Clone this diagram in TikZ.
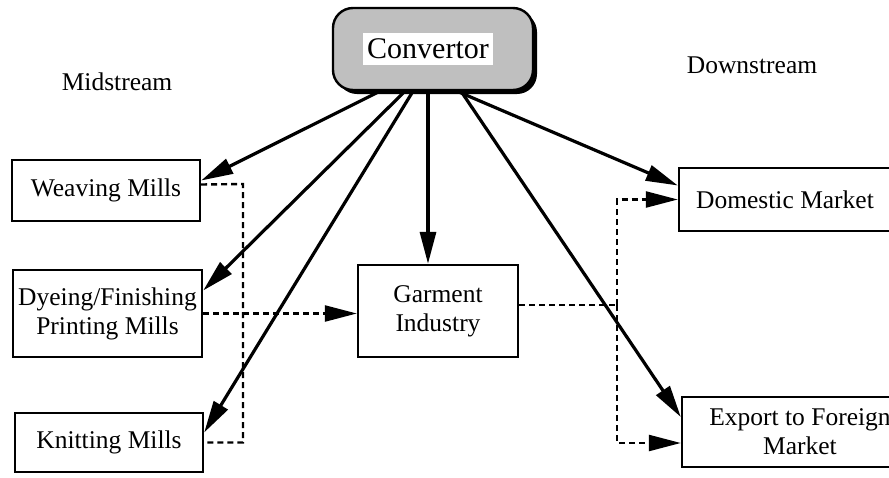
\documentclass[tikz,border=0pt]{standalone}
\usepackage{fontspec}
\setmainfont{Liberation Serif}
\usetikzlibrary{arrows.meta,shadows,backgrounds}
\begin{document}
\begin{tikzpicture}[x=0.5pt,y=-0.5pt,
  txt/.style={font=\fontsize{12.75}{14.5}\selectfont},
  box/.style={txt,draw,line width=1.2pt,fill=white,inner sep=0pt,align=center},
  tip/.style={-{Triangle[length=16pt,width=8pt]}},
  flow/.style={tip,line width=1.6pt},
  link/.style={line width=1.2pt,dash pattern=on 3pt off 2pt},
  linkarrow/.style={link,tip}]
\useasboundingbox (0,0) rectangle (889,477);

% stage headings
\node[txt] (mid) at (117,82) {Midstream};
\node[txt] (down) at (752,65) {Downstream};

% convertor (rounded, shaded, with shadow)
\node[draw,line width=1.2pt,fill=gray!50,rounded corners=10pt,
      minimum width=100pt,minimum height=41pt,
      drop shadow={shadow xshift=2pt,shadow yshift=-2pt,fill=black,opacity=1}]
      (conv) at (433,49) {};
\node[fill=white,minimum width=65pt,minimum height=16pt,inner sep=0pt,
      font=\fontsize{15}{17}\selectfont] (convtext) at (428,49) {Convertor};

% midstream mills
\node[box,minimum width=94pt,minimum height=30.5pt] (weaving) at (106,190.5) {Weaving Mills};
\node[box,minimum width=94.5pt,minimum height=43.5pt] (dyeing) at (107.5,313.5) {Dyeing/Finishing\\Printing Mills};
\node[box,minimum width=94pt,minimum height=29.5pt] (knitting) at (109,442.5) {Knitting Mills};

% garment industry
\node[box,minimum width=80pt,minimum height=46pt] (garment) at (438,311) {Garment\\Industry};

% downstream markets
\node[box,minimum width=106pt,minimum height=31.5pt] (domestic) at (785,199.5) {Domestic Market};
\node[box,minimum width=118pt,minimum height=35pt] (export) at (800,432) {Export to Foreign\\Market};

\coordinate (split) at (617,305);
\coordinate (millbus) at (243,184);

\begin{scope}[on background layer]
  % convertor supplies every stage
  \draw[flow] ([xshift=-26.5pt]conv.south) -- ([yshift=5pt]weaving.east);
  \draw[flow] ([xshift=-14pt]conv.south) -- ([yshift=11.5pt]dyeing.east);
  \draw[flow] ([xshift=-10pt]conv.south) -- ([yshift=5pt]knitting.east);
  \draw[flow] ([xshift=-2.5pt]conv.south) -- ([xshift=-5pt]garment.north);
  \draw[flow] ([xshift=12pt]conv.south) -- ([yshift=7pt]domestic.west);
  \draw[flow] ([xshift=14pt]conv.south) -- ([yshift=7.5pt]export.west);

  % material flow between stages
  \draw[link] ([yshift=3pt]weaving.east) -- (millbus) |- (knitting.east);
  \draw[linkarrow] (dyeing.east) -- (dyeing.east -| garment.west);
  \draw[link] ([yshift=3pt]garment.east) -- (split);
  \draw[linkarrow] (split) |- (domestic.west);
  \draw[linkarrow] (split) |- ([yshift=-5.5pt]export.west);
\end{scope}
\end{tikzpicture}
\end{document}
